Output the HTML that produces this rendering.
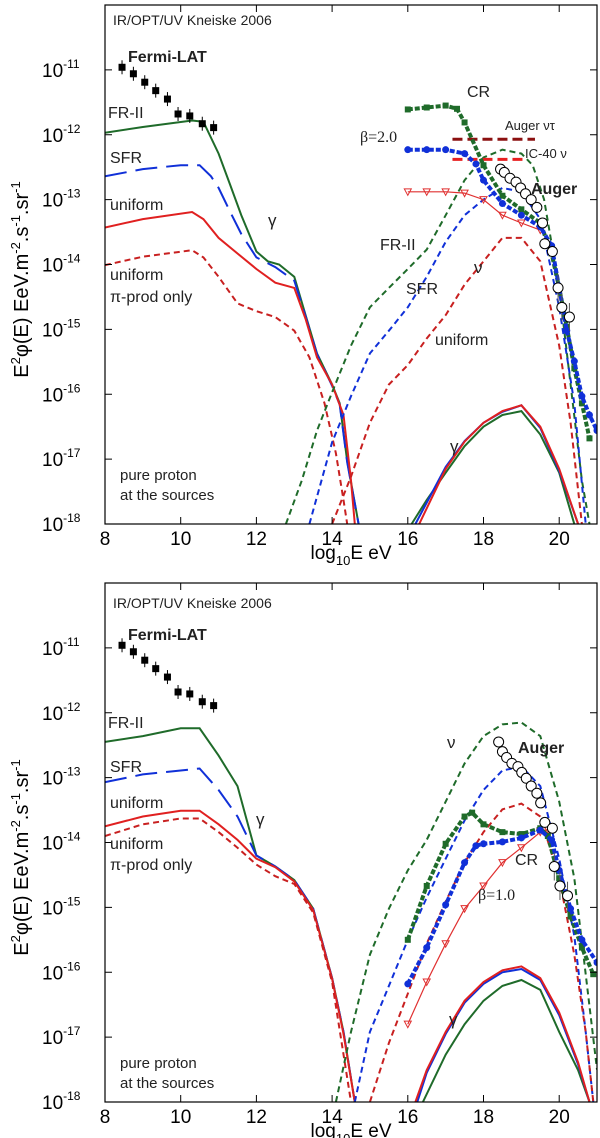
<!DOCTYPE html>
<html><head><meta charset="utf-8"><style>
html,body{margin:0;padding:0;background:#fff;}
svg{display:block;font-family:"Liberation Sans",sans-serif;}
</style></head><body>
<svg id="chart" width="600" height="1138" viewBox="0 0 600 1138" xmlns="http://www.w3.org/2000/svg"></svg>
<script>
// ---------- data (x = log10 E, y = log10 E^2 phi) ----------
const xTicks=[8,10,12,14,16,18,20];
const yTicks=[-11,-12,-13,-14,-15,-16,-17,-18];
const fermiX=[8.45,8.75,9.05,9.34,9.65,9.93,10.24,10.57,10.87];
const fermiY=[-10.96,-11.06,-11.19,-11.32,-11.45,-11.68,-11.71,-11.83,-11.89];
// top panel
const tGreenG=[[8,-11.97],[9,-11.88],[10.3,-11.78],[10.6,-11.8],[11,-12.29],[11.3,-12.76],[11.6,-13.24],[12,-13.8],[12.3,-13.95],[12.6,-14.0],[13,-14.19],[13.3,-14.78],[13.6,-15.37],[14,-15.85],[14.2,-16.14],[14.4,-17.03],[14.7,-18]];
const tBlueG=[[8,-12.64],[9,-12.53],[10,-12.47],[10.5,-12.47],[10.8,-12.64],[11,-12.82],[11.3,-13.18],[11.6,-13.53],[12,-13.89],[12.5,-14.04],[13,-14.25],[13.3,-14.8],[13.6,-15.38],[14,-15.87],[14.2,-16.16],[14.4,-17.05],[14.7,-18]];
const tRedG=[[8,-13.43],[9,-13.3],[10.3,-13.19],[10.6,-13.3],[11,-13.59],[11.5,-13.83],[12,-14.07],[12.5,-14.28],[13,-14.36],[13.3,-14.84],[13.6,-15.43],[14,-15.85],[14.3,-16.32],[14.5,-17.33],[14.6,-18]];
const tRedPi=[[8,-14.01],[9,-13.88],[10.3,-13.78],[10.6,-13.89],[11,-14.19],[11.5,-14.6],[12,-14.72],[12.5,-14.81],[13,-15.02],[13.4,-15.43],[13.8,-16.14],[14.1,-16.91],[14.3,-17.63],[14.4,-18]];
const tGreenNu=[[12.78,-18],[13.2,-17.33],[13.6,-16.56],[14,-15.97],[14.5,-15.25],[15,-14.66],[15.5,-14.36],[16,-14.07],[16.5,-13.77],[17,-13.24],[17.5,-12.7],[18,-12.35],[18.5,-12.23],[19,-12.29],[19.3,-12.47],[19.6,-13.0],[20,-14.36],[20.3,-15.85],[20.6,-17.33],[20.8,-18]];
const tBlueNu=[[13.4,-18],[14,-16.74],[14.5,-16.03],[15,-15.37],[15.5,-15.02],[16,-14.66],[16.5,-14.19],[17,-13.65],[17.5,-13.24],[18,-13.0],[18.5,-12.82],[19,-12.88],[19.5,-13.3],[20,-14.66],[20.4,-16.14],[20.7,-18]];
const tRedNu=[[14.0,-18],[14.5,-17.27],[15,-16.44],[15.5,-15.85],[16,-15.55],[16.5,-15.14],[17,-14.78],[17.5,-14.31],[18,-13.95],[18.5,-13.59],[19,-13.59],[19.5,-13.95],[20,-15.25],[20.3,-16.44],[20.6,-18]];
const tGreenHG=[[16.1,-18],[16.5,-17.63],[17,-17.21],[17.5,-16.8],[18,-16.5],[18.5,-16.32],[19,-16.26],[19.5,-16.62],[20,-17.21],[20.4,-18]];
const tRedHG=[[16.3,-18],[17,-17.15],[17.5,-16.73],[18,-16.44],[18.5,-16.26],[19,-16.17],[19.5,-16.5],[20,-17.15],[20.5,-18]];
const tBlueHG=[[16.2,-18],[17,-17.12],[17.5,-16.72],[18,-16.44],[18.5,-16.27],[19,-16.17],[19.5,-16.52],[20,-17.18],[20.5,-18]];
const tGreenCR=[[16,-11.61],[16.5,-11.58],[17,-11.55],[17.3,-11.6],[17.5,-11.81],[18,-12.47],[18.5,-12.94],[19,-13.15],[19.5,-13.36],[19.8,-13.83],[20,-14.36],[20.2,-14.96],[20.4,-15.6],[20.6,-16.14],[20.8,-16.68]];
const tBlueCR=[[16,-12.23],[16.5,-12.23],[17,-12.23],[17.5,-12.29],[17.8,-12.45],[18,-12.7],[18.5,-13.06],[19,-13.24],[19.5,-13.42],[19.8,-13.71],[20,-14.36],[20.2,-15.02],[20.4,-15.49],[20.6,-16.03],[20.8,-16.32],[21,-16.56]];
const tRedCR=[[16,-12.88],[16.5,-12.88],[17,-12.88],[17.5,-12.9],[18,-13.0],[18.5,-13.24],[19,-13.36],[19.5,-13.47]];
const tAugerX=[18.45,18.55,18.70,18.86,18.98,19.11,19.26,19.41,19.56,19.62,19.82,19.97,20.07,20.27];
const tAugerY=[-12.53,-12.58,-12.67,-12.73,-12.82,-12.91,-13.0,-13.12,-13.36,-13.68,-13.8,-14.36,-14.66,-14.81];
const augerNuTauLimit=[17.18,19.36,-12.07];
const ic40Limit=[17.18,19.1,-12.38];
// bottom panel
const bGreenG=[[8,-12.45],[9,-12.36],[10,-12.24],[10.5,-12.24],[11,-12.66],[11.5,-13.13],[12,-14.2],[12.5,-14.37],[13,-14.58],[13.5,-15.02],[14,-16.09],[14.3,-16.92],[14.6,-18]];
const bBlueG=[[8,-13.07],[9,-12.95],[10,-12.89],[10.5,-12.86],[11,-13.19],[11.5,-13.6],[12,-14.2],[12.5,-14.37],[13,-14.58],[13.5,-15.02],[14,-16.09],[14.3,-16.92],[14.6,-18]];
const bRedG=[[8,-13.75],[9,-13.6],[10,-13.51],[10.5,-13.51],[11,-13.72],[11.5,-13.96],[12,-14.25],[12.5,-14.38],[13,-14.6],[13.5,-15.04],[14,-16.1],[14.3,-16.95],[14.6,-18]];
const bRedPi=[[8,-13.9],[9,-13.72],[10,-13.63],[10.5,-13.63],[11,-13.84],[11.5,-14.08],[12,-14.34],[12.5,-14.52],[13,-14.64],[13.5,-15.08],[14,-16.15],[14.5,-18]];
const bGreenNu=[[14.1,-18],[14.5,-16.92],[15,-15.73],[15.5,-15.02],[16,-14.43],[16.5,-13.96],[17,-13.37],[17.5,-12.78],[18,-12.36],[18.5,-12.18],[19,-12.15],[19.5,-12.36],[20,-13.37],[20.4,-14.55],[20.7,-16.03],[21,-17.5]];
const bBlueNu=[[14.6,-18],[15,-16.92],[15.5,-16.21],[16,-15.5],[16.5,-14.85],[17,-14.25],[17.5,-13.66],[18,-13.19],[18.5,-12.89],[19,-12.83],[19.5,-13.13],[20,-14.25],[20.4,-15.44],[20.7,-16.92],[20.9,-18]];
const bRedNu=[[15.0,-18],[15.5,-17.09],[16,-16.33],[16.5,-15.56],[17,-14.91],[17.5,-14.31],[18,-13.84],[18.5,-13.49],[19,-13.4],[19.5,-13.6],[20,-14.55],[20.4,-15.73],[20.7,-16.92],[20.9,-18]];
const bRedHG=[[16.2,-18],[16.5,-17.51],[17,-16.92],[17.5,-16.44],[18,-16.15],[18.5,-15.97],[19,-15.91],[19.5,-16.09],[20,-16.62],[20.5,-17.39],[20.8,-18]];
const bBlueHG=[[16.25,-18],[16.5,-17.55],[17,-16.95],[17.5,-16.47],[18,-16.18],[18.5,-16.0],[19,-15.95],[19.5,-16.12],[20,-16.66],[20.5,-17.42],[20.8,-18]];
const bGreenHG=[[16.4,-18],[17,-17.27],[17.5,-16.8],[18,-16.44],[18.5,-16.21],[19,-16.12],[19.5,-16.27],[20,-16.92],[20.5,-17.51],[20.8,-18]];
const bGreenCR=[[16,-15.5],[16.5,-14.67],[17,-14.02],[17.5,-13.6],[17.7,-13.54],[18,-13.72],[18.5,-13.84],[19,-13.87],[19.5,-13.78],[19.7,-13.9],[20,-14.55],[20.3,-15.14],[20.6,-15.62],[20.9,-16.03]];
const bBlueCR=[[16,-16.18],[16.5,-15.62],[17,-14.96],[17.5,-14.31],[17.8,-14.05],[18,-14.02],[18.5,-13.99],[19,-13.93],[19.5,-13.81],[19.8,-13.96],[20,-14.43],[20.3,-15.02],[20.6,-15.5],[21,-15.85]];
const bRedCR=[[16,-16.8],[16.5,-16.15],[17,-15.56],[17.5,-15.02],[18,-14.67],[18.5,-14.31],[19,-14.08],[19.5,-13.84],[19.7,-13.8]];
const bAugerX=[18.40,18.50,18.61,18.75,18.91,19.01,19.13,19.26,19.41,19.51,19.62,19.82,19.87,20.02,20.22];
const bAugerY=[-12.45,-12.6,-12.69,-12.78,-12.83,-12.92,-13.01,-13.13,-13.24,-13.39,-13.69,-13.78,-14.37,-14.67,-14.82];

const NS='http://www.w3.org/2000/svg';
const svg=document.getElementById('chart');
const X0=105,XS=37.85;
function mk(tag,parent){const e=document.createElementNS(NS,tag);parent.appendChild(e);return e;}
const G='#1f6b2a',B='#1030d8',R='#e02020',DR='#8b1010';

function panel(off,name,d){
  const g=mk('g',svg);
  
  
  const top=5+off,bot=524+off,DS=(bot-top)/8;
  const sx=v=>X0+(v-8)*XS, sy=v=>bot-(v+18)*DS;
  const clipId='clip'+off;
  const cp=mk('clipPath',g);cp.setAttribute('id',clipId);
  const cr=mk('rect',cp);cr.setAttribute('x',X0);cr.setAttribute('y',top);cr.setAttribute('width',597-X0);cr.setAttribute('height',bot-top);
  const plot=mk('g',g);plot.setAttribute('clip-path','url(#'+clipId+')');
  
  
  function line(pts,col,w,dash,nm){
    const p=mk('polyline',plot);
    
    
    p.setAttribute('points',pts.map(q=>sx(q[0]).toFixed(1)+','+sy(q[1]).toFixed(1)).join(' '));
    p.setAttribute('fill','none');p.setAttribute('stroke',col);p.setAttribute('stroke-width',w);
    if(dash)p.setAttribute('stroke-dasharray',dash);
  }
  function markers(pts,col,shape,nm){
    line(pts,col,shape==='tri'?1.2:4,shape==='tri'?null:'5,2',nm+'-band');
    pts.forEach(q=>{
      let m;const x=sx(q[0]),y=sy(q[1]);
      if(shape==='sq'){m=mk('rect',plot);m.setAttribute('x',x-3);m.setAttribute('y',y-3);m.setAttribute('width',6);m.setAttribute('height',6);m.setAttribute('fill',col);}
      else if(shape==='ci'){m=mk('circle',plot);m.setAttribute('cx',x);m.setAttribute('cy',y);m.setAttribute('r',3.5);m.setAttribute('fill',col);}
      else {m=mk('polygon',plot);m.setAttribute('points',(x-3.5)+','+(y-3)+' '+(x+3.5)+','+(y-3)+' '+x+','+(y+3.5));m.setAttribute('fill','none');m.setAttribute('stroke',col);m.setAttribute('stroke-width',1);}
      
      
    });
  }
  line(d.gG,G,2,null,'fr2-gamma-line');
  line(d.bG,B,2,'22,9','sfr-gamma-line');
  line(d.rG,R,2,null,'uniform-gamma-line');
  line(d.rPi,'#c82020',2,'6,4','uniform-piprod-gamma-line');
  line(d.gNu,G,2,'6,4','fr2-neutrino-line');
  line(d.bNu,B,2,'6,4','sfr-neutrino-line');
  line(d.rNu,'#c82020',2,'6,4','uniform-neutrino-line');
  line(d.gHG,G,2,null,'fr2-uhe-gamma-line');
  line(d.bHG,B,2,null,'sfr-uhe-gamma-line');
  line(d.rHG,R,2,null,'uniform-uhe-gamma-line');
  if(d.lim){
    const l1=mk('line',plot);l1.setAttribute('x1',sx(augerNuTauLimit[0]));l1.setAttribute('x2',sx(augerNuTauLimit[1]));l1.setAttribute('y1',sy(augerNuTauLimit[2]));l1.setAttribute('y2',sy(augerNuTauLimit[2]));l1.setAttribute('stroke',DR);l1.setAttribute('stroke-width',3);l1.setAttribute('stroke-dasharray','10,5');
    
    
    const l2=mk('line',plot);l2.setAttribute('x1',sx(ic40Limit[0]));l2.setAttribute('x2',sx(ic40Limit[1]));l2.setAttribute('y1',sy(ic40Limit[2]));l2.setAttribute('y2',sy(ic40Limit[2]));l2.setAttribute('stroke','#e82020');l2.setAttribute('stroke-width',3);l2.setAttribute('stroke-dasharray','10,5');
    
    
  }
  markers(d.rCR,'#e03030','tri','uniform-cr');
  markers(d.gCR,G,'sq','fr2-cr');
  markers(d.bCR,B,'ci','sfr-cr');
  d.aX.forEach((v,i)=>{
    const x=sx(v),y=sy(d.aY[i]);
    if(i>=d.aX.length-3){const e=mk('line',plot);e.setAttribute('x1',x);e.setAttribute('x2',x);e.setAttribute('y1',y-14);e.setAttribute('y2',y+14);e.setAttribute('stroke','#555');
      
      }
    const c=mk('circle',plot);c.setAttribute('cx',x);c.setAttribute('cy',y);c.setAttribute('r',5);c.setAttribute('fill','#fff');c.setAttribute('stroke','#000');c.setAttribute('stroke-width',1);
    
    
  });
  fermiX.forEach((v,i)=>{
    const x=sx(v),y=sy(fermiY[i]);
    const e=mk('line',plot);e.setAttribute('x1',x);e.setAttribute('x2',x);e.setAttribute('y1',y-7);e.setAttribute('y2',y+7);e.setAttribute('stroke','#000');
    
    
    const r=mk('rect',plot);r.setAttribute('x',x-3.5);r.setAttribute('y',y-3.5);r.setAttribute('width',7);r.setAttribute('height',7);r.setAttribute('fill','#000');
    
    
  });
  // frame
  const fr=mk('rect',g);fr.setAttribute('x',X0);fr.setAttribute('y',top);fr.setAttribute('width',597-X0);fr.setAttribute('height',bot-top);fr.setAttribute('fill','none');fr.setAttribute('stroke','#000');fr.setAttribute('stroke-width',1.2);
  
  
  xTicks.forEach(v=>{
    const x=sx(v);
    const t=mk('line',g);t.setAttribute('x1',x);t.setAttribute('x2',x);t.setAttribute('y1',bot);t.setAttribute('y2',bot-7);t.setAttribute('stroke','#000');
    
    
    const tt=mk('line',g);tt.setAttribute('x1',x);tt.setAttribute('x2',x);tt.setAttribute('y1',top);tt.setAttribute('y2',top+7);tt.setAttribute('stroke','#000');
    
    
    const l=mk('text',g);l.setAttribute('x',x);l.setAttribute('y',bot+21);l.setAttribute('text-anchor','middle');l.setAttribute('font-size','19');l.textContent=v;
    
    
  });
  yTicks.forEach(v=>{
    const y=sy(v);
    const t=mk('line',g);t.setAttribute('x1',X0);t.setAttribute('x2',X0+7);t.setAttribute('y1',y);t.setAttribute('y2',y);t.setAttribute('stroke','#000');
    
    
    const tr=mk('line',g);tr.setAttribute('x1',590);tr.setAttribute('x2',597);tr.setAttribute('y1',y);tr.setAttribute('y2',y);tr.setAttribute('stroke','#000');
    
    
    const l=mk('text',g);l.setAttribute('x',42);l.setAttribute('y',y+7);l.setAttribute('font-size','19');
    
    
    l.innerHTML='10<tspan font-size="12" dy="-9">'+v+'</tspan>';
  });
  const xt=mk('text',g);xt.setAttribute('x',351);xt.setAttribute('y',bot+35);xt.setAttribute('text-anchor','middle');xt.setAttribute('font-size','19');
  xt.innerHTML='log<tspan font-size="13" dy="6">10</tspan><tspan dy="-6">E eV</tspan>';
  
  
  const yt=mk('text',g);yt.setAttribute('transform','translate(28,'+(top+(bot-top)/2+15)+') rotate(-90)');yt.setAttribute('text-anchor','middle');yt.setAttribute('font-size','20');
  yt.innerHTML='E<tspan font-size="13" dy="-8">2</tspan><tspan dy="8">φ(E) EeV.m</tspan><tspan font-size="13" dy="-8">-2</tspan><tspan dy="8">.s</tspan><tspan font-size="13" dy="-8">-1</tspan><tspan dy="8">.sr</tspan><tspan font-size="13" dy="-8">-1</tspan>';
  
  
  d.labels.forEach(a=>{
    const t=mk('text',g);t.setAttribute('x',a[1]);t.setAttribute('y',a[2]+off);t.setAttribute('font-size',a[3]);
    if(a[4])t.setAttribute('font-weight','bold');
    if(a[5])t.setAttribute('font-family','"Liberation Serif",serif');
    t.setAttribute('fill','#222');
    t.textContent=a[0];
    
    
  });
}
panel(0,'top-panel',{gG:tGreenG,bG:tBlueG,rG:tRedG,rPi:tRedPi,gNu:tGreenNu,bNu:tBlueNu,rNu:tRedNu,gHG:tGreenHG,bHG:tBlueHG,rHG:tRedHG,gCR:tGreenCR,bCR:tBlueCR,rCR:tRedCR,aX:tAugerX,aY:tAugerY,lim:true,
labels:[['IR/OPT/UV Kneiske 2006',113,25,14],['Fermi-LAT',128,62,16,1],['FR-II',108,118,16],['SFR',110,163,16],['uniform',110,210,16],['uniform',110,280,16],['π-prod only',110,302,16],['γ',268,226,17],['pure proton',120,480,15],['at the sources',120,500,15],['CR',467,97,16],['Auger ντ',505,130,13],['β=2.0',360,142,16,0,1],['IC-40 ν',525,158,13],['Auger',531,194,16,1],['FR-II',380,250,16],['ν',474,273,17],['SFR',406,294,16],['uniform',435,345,16],['γ',450,452,17]]});
panel(578,'bottom-panel',{gG:bGreenG,bG:bBlueG,rG:bRedG,rPi:bRedPi,gNu:bGreenNu,bNu:bBlueNu,rNu:bRedNu,gHG:bGreenHG,bHG:bBlueHG,rHG:bRedHG,gCR:bGreenCR,bCR:bBlueCR,rCR:bRedCR,aX:bAugerX,aY:bAugerY,lim:false,
labels:[['IR/OPT/UV Kneiske 2006',113,30,14],['Fermi-LAT',128,62,16,1],['FR-II',108,150,16],['SFR',110,194,16],['uniform',110,230,16],['uniform',110,271,16],['π-prod only',110,292,16],['γ',256,247,17],['ν',447,170,17],['Auger',518,175,16,1],['CR',515,287,16],['β=1.0',478,322,16,0,1],['γ',449,447,17],['pure proton',120,490,15],['at the sources',120,510,15]]});
</script>
</body></html>
